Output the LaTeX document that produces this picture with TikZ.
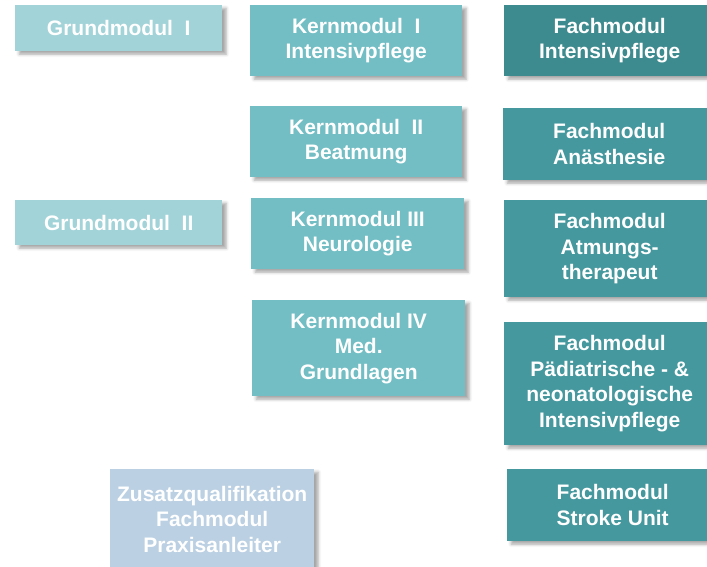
\documentclass[tikz,border=0pt]{standalone}
\usepackage{fontspec}
\setmainfont{Liberation Sans}
\usetikzlibrary{shadows.blur}

\definecolor{grundcol}{HTML}{A2D3D8}
\definecolor{kerncol}{HTML}{72BEC4}
\definecolor{fachdark}{HTML}{3E8B8F}
\definecolor{fachcol}{HTML}{45989E}
\definecolor{zusatzcol}{HTML}{BBD0E3}

\tikzset{
  modul/.style={anchor=north west, inner sep=0pt, align=center, text=white,
    font=\bfseries\fontsize{21}{25.5}\selectfont,
    blur shadow={shadow xshift=4pt, shadow yshift=-3pt, shadow blur radius=3pt, shadow opacity=35}},
  grund/.style={modul, fill=grundcol},
  kern/.style={modul, fill=kerncol},
  fach/.style={modul, fill=fachcol},
  zusatz/.style={modul, fill=zusatzcol},
}

\begin{document}
\begin{tikzpicture}[x=1pt, y=1pt]
  \useasboundingbox (0,0) rectangle (707,-566);

  % Grundmodule
  \node[grund, minimum width=207pt, minimum height=46pt] (g1) at (15,-5) {Grundmodul~~I};
  \node[grund, minimum width=207pt, minimum height=45pt] (g2) at (15,-200) {Grundmodul~~II};

  % Kernmodule
  \node[kern, minimum width=212pt, minimum height=71pt] (k1) at (250,-5) {Kernmodul~~I\\Intensivpflege};
  \node[kern, minimum width=212pt, minimum height=71pt] (k2) at (250,-106) {Kernmodul~~II\\Beatmung};
  \node[kern, minimum width=213pt, minimum height=71pt] (k3) at (251,-198) {Kernmodul III\\Neurologie};
  \node[kern, minimum width=213pt, minimum height=96pt] (k4) at (252,-300) {Kernmodul IV\\Med.\\Grundlagen};

  % Fachmodule
  \node[fach, fill=fachdark, minimum width=211pt, minimum height=71pt] (f1) at (504,-5) {Fachmodul\\Intensivpflege};
  \node[fach, minimum width=212pt, minimum height=72pt] (f2) at (503,-108) {Fachmodul\\Anästhesie};
  \node[fach, minimum width=211pt, minimum height=97pt] (f3) at (504,-200) {Fachmodul\\Atmungs-\\therapeut};
  \node[fach, minimum width=211pt, minimum height=123pt] (f4) at (504,-322) {Fachmodul\\Pädiatrische - \&\\neonatologische\\Intensivpflege};
  \node[fach, minimum width=211pt, minimum height=72pt] (f5) at (507,-469) {Fachmodul\\Stroke Unit};

  % Zusatzqualifikation
  \node[zusatz, minimum width=204pt, minimum height=100pt] (z) at (110,-469) {Zusatzqualifikation\\Fachmodul\\Praxisanleiter};
\end{tikzpicture}
\end{document}
